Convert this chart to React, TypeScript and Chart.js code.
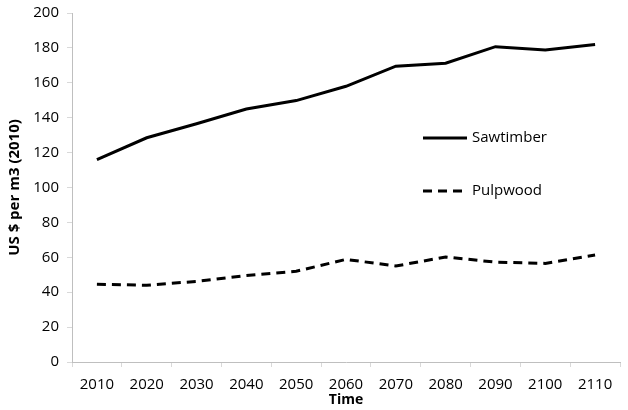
import React, { useEffect, useRef } from "react";
import { Chart, registerables } from "chart.js";

Chart.register(...registerables);

const categories = ["2010", "2020", "2030", "2040", "2050", "2060", "2070", "2080", "2090", "2100", "2110"];
const sawtimber = [116, 128.5, 136.5, 145, 149.8, 158, 169.5, 171.2, 180.7, 178.8, 182];
const pulpwood = [44.5, 44, 46.2, 49.5, 52, 58.8, 55, 60.2, 57.2, 56.5, 61.3];
const yTitle = "US $ per m3 (2010)";
const xTitle = "Time";

const FONT = "'Open Sans', 'Noto Sans', sans-serif";

const legendPlugin = {
  id: "innerLegend",
  afterDraw(chart: any) {
    const ctx = chart.ctx;
    const items = [
      { label: "Sawtimber", dash: [] as number[], y: 138 },
      { label: "Pulpwood", dash: [9, 6], y: 191 },
    ];
    ctx.save();
    items.forEach((it) => {
      ctx.beginPath();
      ctx.setLineDash(it.dash);
      ctx.lineWidth = 3;
      ctx.strokeStyle = "#000";
      ctx.moveTo(423, it.y);
      ctx.lineTo(467, it.y);
      ctx.stroke();
      ctx.setLineDash([]);
      ctx.fillStyle = "#000";
      ctx.font = `15px ${FONT}`;
      ctx.textBaseline = "middle";
      ctx.textAlign = "left";
      ctx.fillText(it.label, 472, it.y);
    });
    ctx.restore();
  },
};

export default function App() {
  const ref = useRef<HTMLCanvasElement>(null);
  useEffect(() => {
    document.body.style.margin = "0";
    const chart = new Chart(ref.current!, {
      type: "line",
      data: {
        labels: categories,
        datasets: [
          {
            label: "Sawtimber",
            data: sawtimber,
            borderColor: "#000",
            borderWidth: 3,
            pointRadius: 0,
            tension: 0,
            fill: false,
          },
          {
            label: "Pulpwood",
            data: pulpwood,
            borderColor: "#000",
            borderWidth: 3,
            borderDash: [9, 6],
            pointRadius: 0,
            tension: 0,
            fill: false,
          },
        ],
      },
      options: {
        animation: false,
        responsive: false,
        layout: { padding: { top: 13, right: 8, left: 0, bottom: 0 } },
        plugins: { legend: { display: false }, tooltip: { enabled: false } },
        scales: {
          x: {
            offset: true,
            grid: { offset: true, drawOnChartArea: false, tickLength: 5, color: "#d9d9d9" },
            border: { color: "#bfbfbf", width: 1 },
            ticks: { color: "#000", font: { family: FONT, size: 15 }, padding: 9, maxRotation: 0 },
            title: { display: true, text: xTitle, color: "#000", font: { family: FONT, size: 14, weight: "bold" }, padding: { top: 0, bottom: 2 } },
            afterFit(scale: any) {
              scale.height = 48;
              scale.paddingLeft = 0;
              scale.paddingRight = 0;
            },
          },
          y: {
            min: 0,
            max: 200,
            ticks: { stepSize: 20, color: "#000", font: { family: FONT, size: 15 }, padding: 8 },
            grid: { drawOnChartArea: false, tickLength: 5, color: "#d9d9d9" },
            border: { color: "#bfbfbf", width: 1 },
            title: { display: true, text: yTitle, color: "#000", font: { family: FONT, size: 15, weight: "bold" }, padding: { top: 6, bottom: 0 } },
            afterFit(scale: any) {
              scale.width = 72;
              scale.paddingTop = 0;
              scale.paddingBottom = 0;
            },
          },
        },
      },
      plugins: [legendPlugin],
    });
    return () => chart.destroy();
  }, []);
  return <canvas ref={ref} width={628} height={410} style={{ display: "block" }} />;
}
